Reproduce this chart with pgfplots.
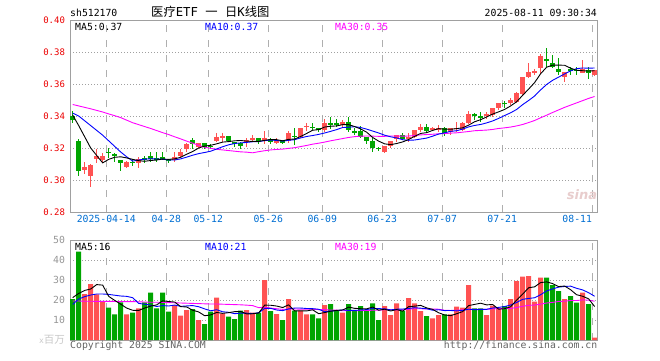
\documentclass[border=0pt]{standalone}
\usepackage{fontspec}
\setmainfont{DejaVu Sans Mono}
\newfontfamily\cjk{Noto Sans CJK SC}
\newfontfamily\sans{DejaVu Sans}
\usepackage{pgfplots}
\usepackage{pgfplotstable}
\pgfplotsset{compat=1.18}
\definecolor{kred}{RGB}{255,82,82}
\definecolor{kgreen}{RGB}{0,165,0}
\definecolor{mablue}{RGB}{0,0,255}
\definecolor{mamag}{RGB}{255,0,255}
\definecolor{framegray}{RGB}{160,160,160}
\definecolor{dashgray}{RGB}{175,175,175}
\definecolor{dotgray}{RGB}{160,160,160}
\definecolor{tickred}{RGB}{235,0,0}
\definecolor{dateblue}{RGB}{0,110,210}
\definecolor{volgray}{RGB}{150,150,150}
\definecolor{lgray}{RGB}{200,200,200}
\definecolor{copygray}{RGB}{100,100,100}
\definecolor{wmpink}{RGB}{232,205,205}

\pgfplotstableread{
i O H L C V
2 0.3063 0.3115 0.3038 0.3083 23.0
3 0.3025 0.3100 0.2958 0.3094 28.0
4 0.3129 0.3194 0.3104 0.3150 22.8
5 0.3125 0.3167 0.3104 0.3150 19.2
9 0.3083 0.3121 0.3077 0.3115 12.8
11 0.3108 0.3142 0.3077 0.3129 15.8
17 0.3125 0.3177 0.3115 0.3146 17.5
18 0.3152 0.3194 0.3140 0.3177 12.2
19 0.3192 0.3233 0.3173 0.3225 15.0
21 0.3204 0.3233 0.3198 0.3229 10.0
24 0.3246 0.3292 0.3240 0.3270 21.2
25 0.3267 0.3296 0.3240 0.3275 13.3
29 0.3240 0.3265 0.3208 0.3250 15.0
30 0.3248 0.3281 0.3240 0.3265 13.7
32 0.3246 0.3306 0.3225 0.3265 30.0
34 0.3235 0.3260 0.3225 0.3246 13.0
36 0.3244 0.3306 0.3229 0.3292 20.5
38 0.3271 0.3327 0.3260 0.3323 14.7
39 0.3333 0.3354 0.3306 0.3340 12.8
42 0.3313 0.3381 0.3298 0.3354 17.5
45 0.3344 0.3375 0.3323 0.3365 13.7
52 0.3177 0.3215 0.3171 0.3215 17.0
53 0.3215 0.3244 0.3198 0.3244 12.5
54 0.3256 0.3281 0.3240 0.3281 18.3
56 0.3256 0.3292 0.3240 0.3271 21.0
57 0.3271 0.3313 0.3260 0.3313 18.3
58 0.3313 0.3348 0.3302 0.3333 14.5
60 0.3313 0.3333 0.3306 0.3327 10.8
61 0.3313 0.3344 0.3302 0.3327 12.5
63 0.3302 0.3327 0.3281 0.3327 12.8
64 0.3319 0.3360 0.3302 0.3327 16.7
65 0.3313 0.3360 0.3306 0.3354 16.2
66 0.3354 0.3431 0.3348 0.3410 27.5
69 0.3402 0.3423 0.3381 0.3410 12.5
70 0.3406 0.3448 0.3396 0.3448 17.2
71 0.3448 0.3479 0.3438 0.3479 15.8
73 0.3479 0.3510 0.3470 0.3500 20.5
74 0.3490 0.3552 0.3483 0.3542 29.5
75 0.3537 0.3646 0.3530 0.3646 31.7
76 0.3646 0.3733 0.3635 0.3677 32.0
77 0.3675 0.3692 0.3656 0.3680 19.2
78 0.3700 0.3788 0.3660 0.3775 31.2
82 0.3646 0.3677 0.3610 0.3677 20.5
85 0.3671 0.3750 0.3667 0.3692 23.7
87 0.3656 0.3688 0.3650 0.3688 1.2
}\redtab

\pgfplotstableread{
i O H L C V
0 0.3398 0.3433 0.3356 0.3378 20.5
1 0.3246 0.3258 0.3025 0.3058 44.2
6 0.3177 0.3198 0.3135 0.3167 16.2
7 0.3160 0.3167 0.3110 0.3150 12.8
8 0.3125 0.3127 0.3058 0.3108 18.8
10 0.3115 0.3129 0.3090 0.3104 13.7
12 0.3135 0.3150 0.3104 0.3131 18.8
13 0.3150 0.3177 0.3115 0.3129 23.7
14 0.3135 0.3177 0.3115 0.3131 15.8
15 0.3146 0.3177 0.3125 0.3135 23.7
16 0.3129 0.3131 0.3104 0.3121 14.2
20 0.3250 0.3265 0.3194 0.3223 15.5
22 0.3229 0.3229 0.3192 0.3204 8.0
23 0.3215 0.3225 0.3196 0.3206 14.2
26 0.3275 0.3275 0.3240 0.3244 11.7
27 0.3237 0.3240 0.3208 0.3229 10.5
28 0.3229 0.3240 0.3192 0.3215 14.7
31 0.3260 0.3265 0.3225 0.3244 13.7
33 0.3254 0.3265 0.3225 0.3240 14.5
35 0.3250 0.3250 0.3223 0.3229 10.0
37 0.3275 0.3323 0.3219 0.3271 14.7
40 0.3333 0.3354 0.3313 0.3327 12.8
41 0.3323 0.3327 0.3298 0.3313 10.8
43 0.3354 0.3396 0.3319 0.3348 18.0
44 0.3352 0.3381 0.3333 0.3348 15.0
46 0.3365 0.3396 0.3302 0.3313 18.0
47 0.3306 0.3323 0.3281 0.3298 14.5
48 0.3306 0.3340 0.3260 0.3271 17.0
49 0.3267 0.3267 0.3223 0.3246 14.7
50 0.3246 0.3260 0.3177 0.3202 18.3
51 0.3200 0.3208 0.3181 0.3196 10.0
55 0.3281 0.3292 0.3250 0.3256 14.5
59 0.3333 0.3348 0.3302 0.3306 12.0
62 0.3323 0.3333 0.3277 0.3296 12.8
67 0.3410 0.3417 0.3375 0.3404 15.8
68 0.3400 0.3423 0.3365 0.3390 15.8
72 0.3481 0.3496 0.3448 0.3477 17.0
79 0.3752 0.3827 0.3708 0.3748 31.2
80 0.3733 0.3781 0.3698 0.3708 27.5
81 0.3692 0.3760 0.3656 0.3677 24.5
83 0.3692 0.3708 0.3656 0.3685 22.0
84 0.3688 0.3708 0.3656 0.3683 18.7
86 0.3688 0.3708 0.3629 0.3667 18.0
}\greentab

\pgfplotstableread{
i m5 m10 m30 v5 v10 v30
0 0.3406 0.3418 0.3472 21.2 17.8 19.5
1 0.3340 0.3400 0.3463 23.3 20.5 19.5
2 0.3270 0.3370 0.3454 24.8 21.7 19.4
3 0.3200 0.3340 0.3445 25.5 22.5 19.4
4 0.3153 0.3310 0.3435 27.7 23.0 19.3
5 0.3107 0.3280 0.3425 27.44 23.0 19.3
6 0.3129 0.3245 0.3413 21.84 22.8 19.3
7 0.3142 0.3210 0.3402 19.8 22.4 19.3
8 0.3145 0.3175 0.3390 17.96 22.0 19.2
9 0.3138 0.3145 0.3374 15.96 21.83 19.2
10 0.3129 0.3118 0.3358 14.86 21.15 19.2
11 0.3121 0.3125 0.3346 14.78 18.31 19.1
12 0.3117 0.3130 0.3334 15.98 17.89 19.0
13 0.3122 0.3133 0.3322 16.96 17.46 18.9
14 0.3125 0.3131 0.3309 17.56 16.76 18.9
15 0.3131 0.3130 0.3296 19.56 17.21 18.8
16 0.3129 0.3125 0.3284 19.24 17.01 18.7
17 0.3132 0.3125 0.3270 18.98 17.48 18.6
18 0.3142 0.3132 0.3257 16.68 16.82 18.5
19 0.3161 0.3143 0.3243 16.52 17.04 18.4
20 0.3178 0.3155 0.3230 14.88 17.22 18.3
21 0.3200 0.3165 0.3217 14.04 16.64 18.2
22 0.3212 0.3172 0.3205 12.14 15.56 18.1
23 0.3217 0.3180 0.3198 12.54 14.61 18.0
24 0.3226 0.3194 0.3192 13.78 15.15 18.0
25 0.3237 0.3208 0.3188 13.34 14.11 17.9
26 0.3240 0.3220 0.3184 13.68 13.86 17.8
27 0.3245 0.3228 0.3180 14.18 13.16 17.7
28 0.3247 0.3232 0.3176 14.28 13.41 17.6
29 0.3243 0.3235 0.3174 13.04 13.41 17.43
30 0.3241 0.3239 0.3170 13.12 13.23 17.2
31 0.3241 0.3240 0.3177 13.52 13.6 16.18
32 0.3248 0.3246 0.3183 17.42 15.8 16.42
33 0.3253 0.3250 0.3188 17.38 15.83 15.97
34 0.3252 0.3247 0.3191 16.98 15.01 15.64
35 0.3245 0.3243 0.3193 16.24 14.68 15.33
36 0.3254 0.3248 0.3198 17.6 15.56 15.48
37 0.3256 0.3252 0.3202 14.54 15.98 15.54
38 0.3272 0.3263 0.3209 14.58 15.98 15.4
39 0.3291 0.3272 0.3216 14.54 15.76 15.4
40 0.3311 0.3278 0.3224 15.1 15.67 15.37
41 0.3315 0.3285 0.3230 13.16 15.38 15.21
42 0.3331 0.3294 0.3237 13.72 14.13 15.16
43 0.3336 0.3304 0.3245 14.38 14.48 14.97
44 0.3338 0.3315 0.3252 14.82 14.68 14.95
45 0.3346 0.3328 0.3259 15.0 15.05 14.61
46 0.3346 0.3330 0.3266 16.44 14.8 14.74
47 0.3334 0.3333 0.3271 15.84 14.78 14.64
48 0.3319 0.3328 0.3274 15.64 15.01 14.8
49 0.3299 0.3318 0.3275 15.58 15.2 14.79
50 0.3266 0.3306 0.3274 16.5 15.75 14.88
51 0.3243 0.3294 0.3273 14.9 15.67 14.88
52 0.3226 0.3280 0.3273 15.4 15.62 15.18
53 0.3221 0.3270 0.3275 14.5 15.07 15.13
54 0.3228 0.3263 0.3275 15.22 15.4 15.03
55 0.3238 0.3252 0.3274 14.46 15.48 15.07
56 0.3253 0.3248 0.3275 16.66 15.78 15.38
57 0.3273 0.3250 0.3278 16.92 16.16 15.64
58 0.3291 0.3256 0.3282 17.32 15.91 15.63
59 0.3296 0.3262 0.3284 16.06 15.64 15.53
60 0.3310 0.3274 0.3286 15.32 14.89 15.44
61 0.3321 0.3287 0.3289 13.62 15.14 15.4
62 0.3318 0.3295 0.3290 12.52 14.72 14.82
63 0.3317 0.3304 0.3293 12.18 14.75 14.77
64 0.3321 0.3308 0.3295 13.12 14.59 14.89
65 0.3326 0.3318 0.3299 14.2 14.76 15.1
66 0.3343 0.3332 0.3303 17.2 15.41 15.33
67 0.3364 0.3341 0.3308 17.8 15.16 15.37
68 0.3377 0.3347 0.3310 18.4 15.29 15.4
69 0.3394 0.3357 0.3312 17.56 15.34 15.39
70 0.3412 0.3369 0.3316 17.76 15.98 15.54
71 0.3426 0.3385 0.3322 15.42 16.31 15.71
72 0.3441 0.3403 0.3326 15.66 16.73 15.69
73 0.3463 0.3420 0.3331 16.6 17.5 15.77
74 0.3489 0.3441 0.3338 20.0 18.78 16.26
75 0.3529 0.3471 0.3347 22.9 20.33 16.86
76 0.3568 0.3497 0.3359 26.14 20.78 17.32
77 0.3609 0.3525 0.3372 26.58 21.12 17.48
78 0.3664 0.3563 0.3389 28.72 22.66 17.95
79 0.3705 0.3597 0.3405 29.06 24.53 18.5
80 0.3718 0.3623 0.3422 28.22 25.56 18.81
81 0.3718 0.3643 0.3438 26.72 26.43 19.29
82 0.3717 0.3663 0.3454 26.98 26.78 19.41
83 0.3699 0.3682 0.3468 25.14 26.93 19.73
84 0.3686 0.3696 0.3482 22.64 25.85 19.74
85 0.3683 0.3700 0.3496 21.88 25.05 20.05
86 0.3681 0.3699 0.3510 20.6 23.66 19.95
87 0.3683 0.3700 0.3522 16.74 21.86 19.38
}\matab

\pgfplotsset{
  kbase/.style={
    scale only axis, width=527pt, xmin=-0.45, xmax=87.4,
    anchor=south west,
    axis line style={draw=framegray, line width=0.8pt},
    major tick length=0pt,
    xtick={5.6,15.6,22.6,32.6,41.6,51.6,61.6,71.6},
    extra x ticks={86.6},
    xmajorgrids, ymajorgrids,
    major x grid style={draw=dashgray, line width=0.8pt, dash pattern=on 7pt off 8pt},
    major y grid style={draw=dotgray, line width=0.8pt, dash pattern=on 1pt off 2pt},
    extra x tick style={grid=major, major grid style={draw=dashgray, line width=0.8pt, dash pattern=on 7pt off 8pt}},
  },
  wick/.style={draw=none, mark=none, forget plot,
    mark options={draw=none, fill=none},
    error bars/.cd, y dir=both, y explicit, error mark=none,
    error bar style={draw=#1, line width=1pt, solid}},
  body/.style={draw=none, mark=none, forget plot,
    mark options={draw=none, fill=none},
    error bars/.cd, y dir=both, y explicit, error mark=none,
    error bar style={draw=#1, line width=5pt, solid}},
}

\begin{document}
\begin{tikzpicture}
\useasboundingbox (0pt,0pt) rectangle (660pt,360pt);

% price panel
\begin{axis}[kbase, at={(70pt,148pt)}, height=192pt,
  ymin=0.28, ymax=0.40,
  ytick={0.28,0.30,0.32,0.34,0.36,0.38,0.40},
  yticklabels={0.28,0.30,0.32,0.34,0.36,0.38,0.40},
  yticklabel style={font=\fontsize{9}{9}\selectfont, text=tickred, xshift=-1.5pt},
  xticklabels={2025-04-14,04-28,05-12,05-26,06-09,06-23,07-07,07-21},
  xticklabel style={font=\fontsize{9.8}{9.8}\selectfont, text=dateblue},
  extra x tick labels={08-11},
  extra x tick style={xticklabel style={xshift=-15pt}},
]
\addplot[wick=kgreen] table[x=i, y expr={(\thisrow{H}+\thisrow{L})/2}, y error expr={(\thisrow{H}-\thisrow{L})/2}] {\greentab};
\addplot[body=kgreen] table[x=i, y expr={(\thisrow{O}+\thisrow{C})/2}, y error expr={max(abs(\thisrow{C}-\thisrow{O})/2,0.0004)}] {\greentab};
\addplot[wick=kred] table[x=i, y expr={(\thisrow{H}+\thisrow{L})/2}, y error expr={(\thisrow{H}-\thisrow{L})/2}] {\redtab};
\addplot[body=kred] table[x=i, y expr={(\thisrow{O}+\thisrow{C})/2}, y error expr={max(abs(\thisrow{C}-\thisrow{O})/2,0.0004)}] {\redtab};
\addplot[mamag, line width=0.9pt, no marks] table[x=i, y=m30] {\matab};
\addplot[mablue, line width=0.9pt, no marks] table[x=i, y=m10] {\matab};
\addplot[black, line width=0.9pt, no marks] table[x=i, y=m5] {\matab};
\end{axis}

% volume panel
\begin{axis}[kbase, at={(70pt,20pt)}, height=100pt,
  ymin=0, ymax=50,
  ytick={0,10,20,30,40,50},
  yticklabels={{\textcolor{lgray}{\fontsize{8}{8}\selectfont x\cjk\fontsize{10.5}{10.5}\selectfont 百万}},10,20,30,40,50},
  yticklabel style={font=\fontsize{9.8}{9.8}\selectfont, text=volgray, xshift=-1.5pt},
  xticklabels={}, extra x tick labels={},
]
\addplot[ybar, bar width=5pt, bar shift=0pt, fill=kgreen, draw=none, forget plot] table[x=i, y=V] {\greentab};
\addplot[ybar, bar width=5pt, bar shift=0pt, fill=kred, draw=none, forget plot] table[x=i, y=V] {\redtab};
\addplot[mamag, line width=0.9pt, no marks] table[x=i, y=v30] {\matab};
\addplot[mablue, line width=0.9pt, no marks] table[x=i, y=v10] {\matab};
\addplot[black, line width=0.9pt, no marks] table[x=i, y=v5] {\matab};
\end{axis}

% texts
\begin{scope}[every node/.style={inner sep=0pt, font=\fontsize{9.8}{9.8}\selectfont}]
\node[anchor=base west] at (70pt,343.3pt) {sh512170};
\node[anchor=base west, font=\fontsize{12.3}{12.3}\selectfont] at (151pt,343.6pt) {{\cjk 医疗}ETF {\cjk 一} {\cjk 日}K{\cjk 线图}};
\node[anchor=base east] at (597pt,343.3pt) {2025-08-11 09:30:34};
\node[anchor=base west] at (75pt,330pt) {MA5:0.37};
\node[anchor=base west, text=mablue] at (205pt,330pt) {MA10:0.37};
\node[anchor=base west, text=mamag] at (335pt,330pt) {MA30:0.35};
\node[anchor=base west] at (75pt,109.3pt) {MA5:16};
\node[anchor=base west, text=mablue] at (205pt,109.3pt) {MA10:21};
\node[anchor=base west, text=mamag] at (335pt,109.3pt) {MA30:19};
\node[anchor=base west, text=copygray] at (70pt,11.7pt) {Copyright 2025 SINA.COM};
\node[anchor=base east, text=copygray] at (597.5pt,11.7pt) {http://finance.sina.com.cn};
\node[anchor=center, text=wmpink, font=\sans\bfseries\itshape\fontsize{13}{13}\selectfont] at (582pt,165pt) {sina};
\end{scope}
\end{tikzpicture}
\end{document}
